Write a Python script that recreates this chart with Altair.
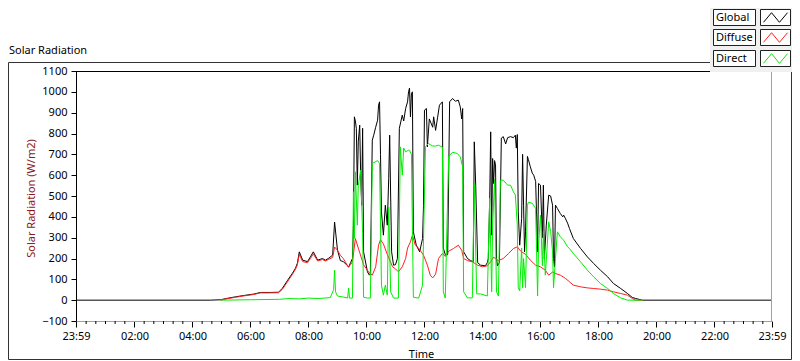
import altair as alt
import pandas as pd

# ---------------- data ----------------
global_times = ["00:00", "04:37", "04:58", "05:10", "05:29", "05:45", "06:06", "06:21", "06:41", "06:58",
                "07:06", "07:17", "07:27", "07:33", "07:37", "07:41", "07:48", "07:58", "08:04", "08:10",
                "08:19", "08:29", "08:35", "08:41", "08:50", "08:54", "09:00", "09:06", "09:12", "09:21",
                "09:23", "09:27", "09:31", "09:33", "09:35", "09:37", "09:39", "09:41", "09:43", "09:46",
                "09:48", "09:50", "09:52", "09:54", "10:02", "10:06", "10:08", "10:12", "10:15", "10:19",
                "10:23", "10:25", "10:27", "10:29", "10:31", "10:35", "10:39", "10:43", "10:46", "10:48",
                "10:50", "10:52", "10:56", "11:00", "11:04", "11:08", "11:14", "11:17", "11:21", "11:25",
                "11:27", "11:29", "11:31", "11:33", "11:35", "11:37", "11:43", "11:50", "11:56", "11:58",
                "12:00", "12:04", "12:06", "12:10", "12:17", "12:19", "12:23", "12:27", "12:31", "12:37",
                "12:39", "12:43", "12:48", "12:52", "12:58", "13:04", "13:10", "13:14", "13:17", "13:19",
                "13:21", "13:29", "13:35", "13:41", "13:43", "13:46", "13:50", "13:56", "14:06", "14:10",
                "14:12", "14:15", "14:17", "14:19", "14:21", "14:23", "14:25", "14:27", "14:29", "14:31",
                "14:35", "14:39", "14:43", "14:48", "14:52", "14:58", "15:04", "15:08", "15:10", "15:12",
                "15:14", "15:17", "15:21", "15:23", "15:25", "15:27", "15:29", "15:33", "15:35", "15:39",
                "15:43", "15:46", "15:50", "15:54", "15:56", "16:00", "16:04", "16:06", "16:08", "16:12",
                "16:17", "16:21", "16:25", "16:27", "16:29", "16:31", "16:35", "16:41", "16:46", "16:48",
                "16:52", "16:56", "17:00", "17:08", "17:23", "17:37", "17:50", "18:04", "18:19", "18:31",
                "18:46", "19:00", "19:10", "19:17", "19:31", "23:59"]
global_vals = [0, 0, 2, 8, 16, 22, 29, 37, 37, 38,
               57, 96, 130, 153, 177, 232, 192, 185, 208, 232,
               192, 200, 192, 200, 216, 375, 240, 190, 185, 165,
               158, 180, 200, 360, 880, 860, 825, 552, 760, 840,
               600, 456, 825, 232, 136, 120, 125, 768, 792, 830,
               864, 936, 952, 700, 424, 312, 456, 360, 584, 792,
               500, 232, 168, 170, 200, 825, 888, 860, 920, 952,
               1000, 1018, 880, 990, 1000, 328, 264, 232, 296, 456,
               912, 920, 736, 870, 830, 880, 815, 875, 936, 952,
               250, 218, 218, 952, 968, 955, 960, 928, 870, 920,
               232, 200, 190, 185, 760, 552, 180, 168, 165, 180,
               200, 490, 808, 312, 680, 560, 670, 650, 200, 165,
               180, 778, 785, 750, 780, 785, 780, 792, 730, 795,
               424, 264, 392, 700, 456, 232, 328, 690, 675, 640,
               610, 600, 570, 232, 560, 552, 300, 552, 200, 360,
               504, 500, 456, 200, 160, 456, 440, 416, 400, 408,
               390, 370, 344, 296, 248, 208, 176, 144, 112, 80,
               56, 32, 13, 8, 0, 0]

diffuse_times = ["04:58", "05:10", "05:29", "05:45", "06:06", "06:21", "06:41", "06:58", "07:06", "07:17",
                 "07:27", "07:33", "07:37", "07:41", "07:48", "07:58", "08:04", "08:10", "08:19", "08:29",
                 "08:35", "08:41", "08:50", "08:54", "09:00", "09:06", "09:12", "09:21", "09:23", "09:27",
                 "09:31", "09:37", "09:43", "09:54", "10:06", "10:12", "10:19", "10:25", "10:29", "10:35",
                 "10:43", "10:54", "11:00", "11:06", "11:14", "11:21", "11:25", "11:31", "11:35", "11:41",
                 "11:48", "11:58", "12:06", "12:12", "12:17", "12:23", "12:29", "12:37", "12:43", "12:50",
                 "13:00", "13:10", "13:17", "13:21", "13:29", "13:39", "13:50", "14:00", "14:10", "14:17",
                 "14:23", "14:33", "14:43", "14:54", "15:04", "15:12", "15:19", "15:29", "15:39", "15:50",
                 "16:00", "16:10", "16:17", "16:25", "16:31", "16:41", "16:48", "16:52", "17:00", "17:08",
                 "17:23", "17:37", "17:50", "18:04", "18:19", "18:31", "18:46", "19:00", "19:10", "19:17",
                 "19:31"]
diffuse_vals = [0, 6, 14, 20, 27, 35, 35, 36, 52, 90,
                125, 148, 170, 220, 185, 180, 200, 222, 188, 195,
                188, 195, 205, 255, 240, 215, 200, 165, 160, 170,
                185, 296, 250, 170, 130, 120, 160, 264, 290, 270,
                220, 160, 150, 136, 160, 200, 250, 280, 312, 264,
                250, 216, 168, 120, 107, 125, 200, 224, 210, 235,
                248, 264, 240, 200, 190, 184, 168, 160, 165, 185,
                206, 190, 200, 224, 248, 256, 235, 220, 192, 168,
                160, 144, 120, 135, 128, 120, 110, 104, 88, 72,
                64, 59, 56, 53, 48, 40, 32, 24, 8, 0,
                0]

direct_times = ["04:58", "06:00", "07:00", "07:20", "07:40", "08:00", "08:20", "08:45", "08:52", "08:54",
                "08:56", "09:00", "09:12", "09:21", "09:23", "09:25", "09:31", "09:33", "09:35", "09:37",
                "09:41", "09:43", "09:48", "09:52", "09:54", "10:02", "10:08", "10:12", "10:23", "10:27",
                "10:31", "10:35", "10:39", "10:43", "10:46", "10:50", "10:56", "11:06", "11:10", "11:14",
                "11:17", "11:21", "11:27", "11:29", "11:33", "11:37", "11:48", "11:56", "11:58", "12:02",
                "12:08", "12:17", "12:23", "12:29", "12:37", "12:39", "12:43", "12:50", "12:58", "13:08",
                "13:14", "13:19", "13:21", "13:29", "13:39", "13:43", "13:48", "13:56", "14:10", "14:15",
                "14:19", "14:21", "14:25", "14:29", "14:33", "14:37", "14:43", "14:52", "14:58", "15:04",
                "15:08", "15:12", "15:14", "15:17", "15:21", "15:23", "15:25", "15:29", "15:33", "15:35",
                "15:43", "15:50", "15:54", "15:56", "16:00", "16:04", "16:06", "16:10", "16:14", "16:17",
                "16:21", "16:25", "16:27", "16:31", "16:35", "16:41", "16:48", "16:56", "17:00", "17:08",
                "17:23", "17:37", "17:50", "18:04", "18:19", "18:31", "18:46", "19:00", "19:31"]
direct_vals = [0, 2, 4, 8, 6, 10, 8, 12, 50, 144,
               40, 20, 15, 10, 58, 10, 10, 520, 296, 616,
               360, 550, 624, 320, 14, 10, 10, 656, 670, 656,
               72, 24, 72, 24, 448, 40, 10, 10, 736, 600,
               730, 712, 720, 720, 700, 14, 10, 72, 296, 736,
               752, 740, 740, 744, 735, 40, 10, 690, 710, 704,
               688, 640, 40, 11, 11, 560, 30, 30, 20, 490,
               40, 360, 580, 40, 20, 576, 576, 552, 552, 520,
               505, 360, 60, 45, 250, 60, 200, 60, 456, 470,
               465, 440, 20, 264, 408, 165, 330, 120, 264, 376,
               330, 232, 60, 200, 328, 304, 288, 256, 248, 224,
               184, 144, 112, 80, 56, 32, 11, 0, 0]

series_names = ["Global", "Diffuse", "Direct"]
series_colors = ["#000000", "#ff2020", "#00ee00"]

y_ticks = [-100, 0, 100, 200, 300, 400, 500, 600, 700, 800, 900, 1000, 1100]
x_major = [-1, 120, 240, 360, 480, 600, 720, 840, 960, 1080, 1200, 1320, 1439]
x_minor = [m for m in range(20, 1439, 20) if m % 120 != 0]


def to_min(t):
    h, m = t.split(":")
    return int(h) * 60 + int(m)


df_g = pd.DataFrame({"t": [to_min(t) for t in global_times], "v": global_vals})
df_d = pd.DataFrame({"t": [to_min(t) for t in diffuse_times], "v": diffuse_vals})
df_r = pd.DataFrame({"t": [to_min(t) for t in direct_times], "v": direct_vals})
df_minor = pd.DataFrame({"t": x_minor})

FONT = "Noto Sans, sans-serif"
FS = 11
W, H = 696, 250

xs = alt.Scale(domain=[-1, 1439], nice=False, zero=False)
ys = alt.Scale(domain=[-100, 1100], nice=False, zero=False)

label_expr = ("(datum.value < 0 || datum.value >= 1439) ? '23:59' : "
              "((floor(datum.value / 60) < 10 ? '0' : '') + floor(datum.value / 60) + ':00')")

x_axis = alt.Axis(values=x_major, labelExpr=label_expr, title="Time", grid=False,
                  tickSize=6, tickColor="#000000", domainColor="#a0a0a0",
                  labelFont=FONT, labelFontSize=FS, labelColor="#000000", labelPadding=3,
                  labelFlush=False, labelOverlap=False,
                  titleFont=FONT, titleFontSize=FS, titleFontWeight="normal", titleColor="#000000",
                  titleX=345, titleY=33, titleBaseline="middle")
y_axis = alt.Axis(values=y_ticks, format="d", title="Solar Radiation (W/m2)", grid=False,
                  tickSize=5, tickColor="#000000", domainColor="#000000",
                  labelFont=FONT, labelFontSize=FS, labelColor="#000000", labelPadding=4,
                  titleFont=FONT, titleFontSize=FS, titleFontWeight="normal", titleColor="#8b1a1a",
                  titleX=-45, titleY=127, titleAngle=270, titleAlign="center", titleBaseline="middle")

x_enc = alt.X("t:Q", scale=xs, axis=x_axis)
y_enc = alt.Y("v:Q", scale=ys, axis=y_axis)

line_g = alt.Chart(df_g).mark_line(color=series_colors[0], strokeWidth=1).encode(x=x_enc, y=y_enc)
line_d = alt.Chart(df_d).mark_line(color=series_colors[1], strokeWidth=1).encode(x=x_enc, y=y_enc)
line_r = alt.Chart(df_r).mark_line(color=series_colors[2], strokeWidth=1).encode(x=x_enc, y=y_enc)

minor_ticks = alt.Chart(df_minor).mark_rule(color="#000000", strokeWidth=1).encode(
    x=x_enc, y=alt.value(H), y2=alt.value(H + 3))

one = pd.DataFrame({"a": [0]})
base = alt.Chart(one)

top_border = base.mark_rule(color="#000000", strokeWidth=1).encode(
    x=alt.value(0), x2=alt.value(W), y=alt.value(0.5))
right_border = base.mark_rule(color="#a0a0a0", strokeWidth=1).encode(
    x=alt.value(W - 0.5), y=alt.value(0), y2=alt.value(H))

frame = base.mark_rect(fill=None, stroke="#333333", strokeWidth=1).encode(
    x=alt.value(-67.5), x2=alt.value(715.5), y=alt.value(-8.5), y2=alt.value(288.5))

title_txt = base.mark_text(text="Solar Radiation", align="left", baseline="alphabetic",
                           font=FONT, fontSize=FS, color="#000000").encode(
    x=alt.value(-67), y=alt.value(-17))

panel = base.mark_rect(fill="#f0f0f0", stroke=None).encode(
    x=alt.value(634), x2=alt.value(716), y=alt.value(-64), y2=alt.value(1))

legend_layers = []
box_tops = [-62, -42, -21]
for name, col, top in zip(series_names, series_colors, box_tops):
    bot = top + 16
    legend_layers.append(base.mark_rect(fill="#ffffff", stroke="#202020", strokeWidth=1).encode(
        x=alt.value(637.5), x2=alt.value(679.5), y=alt.value(top + 0.5), y2=alt.value(bot + 0.5)))
    legend_layers.append(base.mark_rect(fill="#ffffff", stroke="#202020", strokeWidth=1).encode(
        x=alt.value(684.5), x2=alt.value(714.5), y=alt.value(top + 0.5), y2=alt.value(bot + 0.5)))
    legend_layers.append(base.mark_text(text=name, align="left", baseline="middle",
                                        font=FONT, fontSize=FS, color="#000000").encode(
        x=alt.value(640), y=alt.value((top + bot) / 2 + 1)))
    legend_layers.append(base.mark_point(shape="M-1,0.4L-0.33,-0.4L0.33,0.4L1,-0.4",
                                         filled=False, size=576, strokeWidth=1,
                                         color=col, opacity=1).encode(
        x=alt.value(699.5), y=alt.value((top + bot) / 2 + 0.5)))

chart = alt.layer(
    frame, title_txt, line_g, line_d, line_r, minor_ticks, top_border, right_border,
    panel, *legend_layers
).properties(
    width=W, height=H,
    autosize=alt.AutoSizeParams(type="none"),
    padding={"left": 68, "top": 63, "right": 20, "bottom": 40},
    background="#ffffff",
).configure_view(stroke=None)

chart.save("out.html", embed_options={"renderer": "svg", "actions": False})
